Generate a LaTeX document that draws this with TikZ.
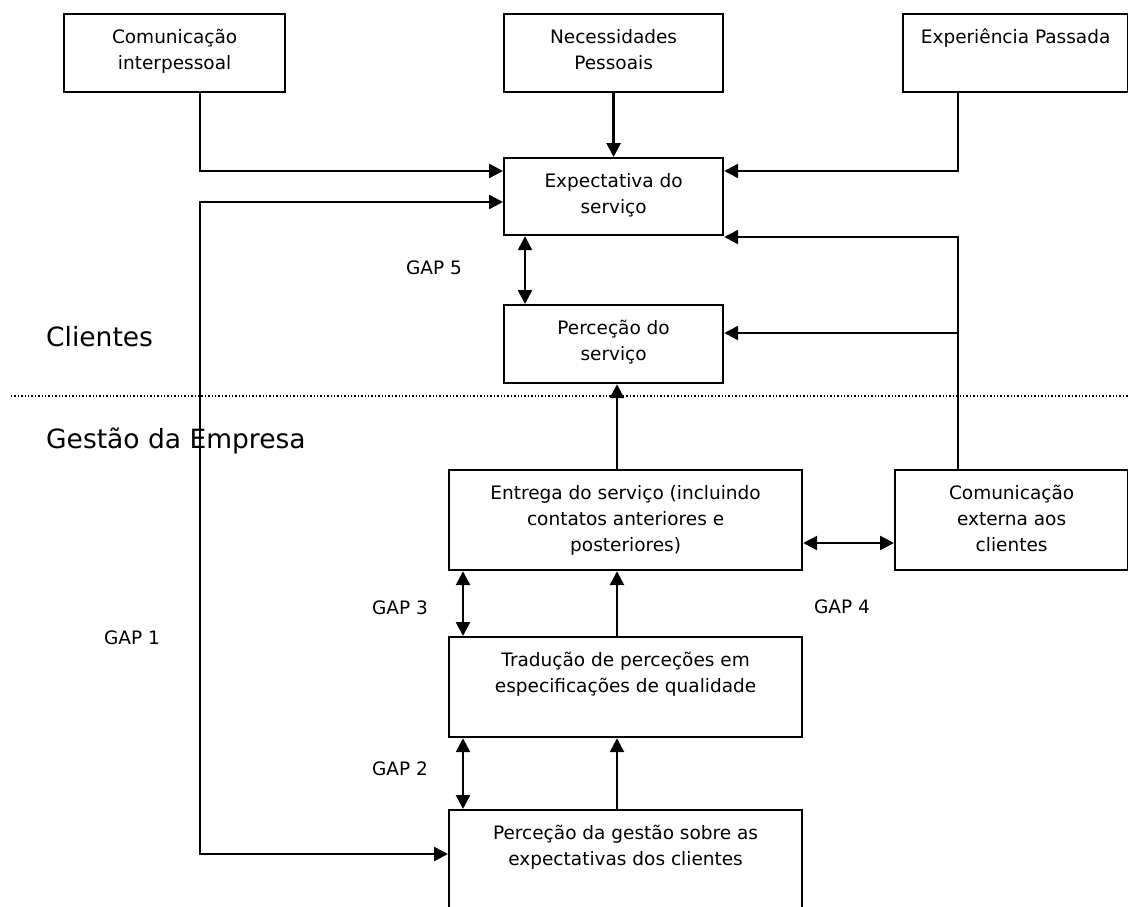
\documentclass[tikz,border=0pt]{standalone}
\usepackage{fontspec}
\setmainfont{DejaVu Sans}
\usetikzlibrary{arrows.meta,calc}
\newcommand{\boxtext}[3]{\parbox[t][#2][t]{#1}{\centering\rule{0pt}{29pt}#3}}
\tikzset{
  box/.style={draw, line width=2.2pt, inner sep=0pt, anchor=north west,
    font=\fontsize{18.5}{26}\selectfont},
  arr/.style={line width=2.6pt, -{Triangle[length=14pt,width=14pt]}},
  dbl/.style={line width=2.6pt, {Triangle[length=14pt,width=14pt]}-{Triangle[length=14pt,width=14pt]}},
  lbl/.style={inner sep=0pt, font=\fontsize{18.5}{22}\selectfont},
  big/.style={inner sep=0pt, anchor=west, font=\fontsize{26.5}{30}\selectfont},
}
\begin{document}
\begin{tikzpicture}[x=1pt,y=-1pt]
\path[use as bounding box] (0,0) rectangle (1128,907);
\clip (0,0) rectangle (1128,907);
% boxes
\node[box] (ci)  at (63,13)  {\boxtext{221pt}{78pt}{Comunicação\\interpessoal}};
\node[box] (np)  at (503,13) {\boxtext{219pt}{78pt}{Necessidades\\Pessoais}};
\node[box] (ep)  at (902,13) {\boxtext{225pt}{78pt}{Experiência Passada}};
\node[box] (exp) at (503,157) {\boxtext{219pt}{77pt}{Expectativa do\\serviço}};
\node[box] (per) at (503,304) {\boxtext{219pt}{78pt}{Perceção do\\serviço}};
\node[box] (ent) at (448,469) {\boxtext{353pt}{100pt}{Entrega do serviço (incluindo\\contatos anteriores e\\posteriores)}};
\node[box] (com) at (894,469) {\boxtext{233pt}{100pt}{Comunicação\\externa aos\\clientes}};
\node[box] (tra) at (448,636) {\boxtext{353pt}{100pt}{Tradução de perceções em\\especificações de qualidade}};
\node[box] (ges) at (448,809) {\boxtext{353pt}{115pt}{Perceção da gestão sobre as\\expectativas dos clientes}};
% labels
\node[big] (cli) at (46,337) {Clientes};
\node[big] (gem) at (46,441) {Gestão da Empresa};
\node[lbl] (g5) at (434,268) {GAP 5};
\node[lbl] (g3) at (400,608) {GAP 3};
\node[lbl] (g4) at (842,607) {GAP 4};
\node[lbl] (g2) at (400,769) {GAP 2};
\node[lbl] (g1) at (132,638) {GAP 1};
% dotted separator
\coordinate (dl) at (11,396);
\coordinate (dr) at (1128,396);
\draw[line width=1.4pt, dotted] (dl) -- (dr);
% connectors to Expectativa
\draw[arr] ([xshift=137pt]ci.south west) |- ([yshift=-14pt]exp.north west);
\draw[arr] (np.south) -- (exp.north);
\draw[arr] ([xshift=56pt]ep.south west) |- ([yshift=-14pt]exp.north east);
\coordinate (cx) at ([xshift=64pt]com.north west);
\draw[arr] (cx) |- ([yshift=-80pt]exp.north east);
\coordinate (pe) at ([yshift=-29pt]per.north east);
\draw[arr] (cx |- pe) -- (pe);
% GAP 1 loop
\coordinate (gl) at (200,202);
\draw[dbl] ([yshift=-45pt]ges.north west) -| (gl) -- ([yshift=-45pt]exp.north west);
% GAP 5
\draw[dbl] ([xshift=22pt]exp.south west) -- ([xshift=22pt]per.north west);
% service delivery to perception
\draw[arr] ([xshift=169pt]ent.north west) -- ([xshift=114pt]per.south west);
\draw[dbl] ([yshift=-74pt]ent.north east) -- ([yshift=-74pt]com.north west);
% GAP 3 and GAP 2
\draw[dbl] ([xshift=15pt]ent.south west) -- ([xshift=15pt]tra.north west);
\draw[arr] ([xshift=169pt]tra.north west) -- ([xshift=169pt]ent.south west);
\draw[dbl] ([xshift=15pt]tra.south west) -- ([xshift=15pt]ges.north west);
\draw[arr] ([xshift=169pt]ges.north west) -- ([xshift=169pt]tra.south west);
\end{tikzpicture}
\end{document}
